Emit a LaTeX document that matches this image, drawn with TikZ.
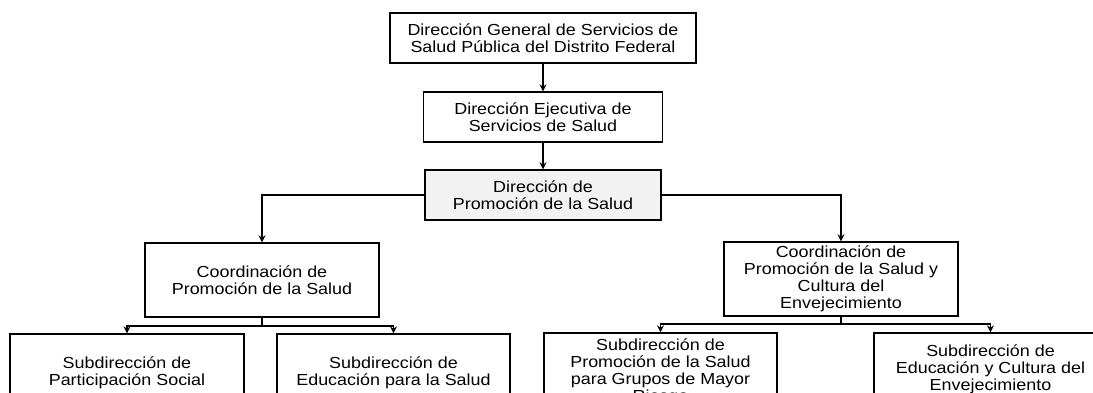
\documentclass[tikz,border=0pt]{standalone}
\usepackage{fontspec}
\setmainfont[FakeStretch=1.12]{Liberation Sans}
\usepackage{xcolor}
\usetikzlibrary{arrows.meta}
\definecolor{boxgray}{RGB}{242, 242, 242}

\begin{document}
\begin{tikzpicture}[x=1pt,y=1pt,yscale=-1,xscale=1,
  unit/.style={draw, line width=1.3pt, align=center, inner sep=2pt, font=\fontsize{16}{17}\selectfont},
  link/.style={line width=1.3pt, -{Stealth[length=7pt,width=7pt]}}]
%set diagram to 1093 x 392, the lowest boxes run off the bottom
\useasboundingbox (0,0) rectangle (1093,392);
\clip (0,0) rectangle (1093,392);

% Text Node
\node [unit, minimum width=306, minimum height=50] (dgs) at (543,38) {Dirección General de Servicios de\\Salud Pública del Distrito Federal};
% Text Node
\node [unit, minimum width=239, minimum height=50] (des) at (543,117) {Dirección Ejecutiva de\\Servicios de Salud};
% Text Node
\node [unit, fill=boxgray, minimum width=236, minimum height=50] (dps) at (543,195) {Dirección de\\Promoción de la Salud};
% Text Node
\node [unit, minimum width=234, minimum height=74] (cps) at (262,280) {Coordinación de\\Promoción de la Salud};
% Text Node
\node [unit, minimum width=234, minimum height=74] (cpsce) at (841,279) {Coordinación de\\Promoción de la Salud y\\Cultura del\\Envejecimiento};
% Text Node
\node [unit, minimum width=234, minimum height=78] (spsoc) at (127,373) {Subdirección de\\Participación Social};
% Text Node
\node [unit, minimum width=233, minimum height=78] (seps) at (393.5,373) {Subdirección de\\Educación para la Salud};
% Text Node
\node [unit, minimum width=233, minimum height=78] (spgmr) at (660.5,372) {Subdirección de\\Promoción de la Salud\\para Grupos de Mayor\\Riesgo};
% Text Node
\node [unit, minimum width=233, minimum height=72] (secde) at (990.5,369) {Subdirección de\\Educación y Cultura del\\Envejecimiento};

%Straight Lines
\draw [link] (dgs) -- (des);
\draw [link] (des) -- (dps);
\draw [link] (dps.west) -| (cps.north);
\draw [link] (dps.east) -| (cpsce.north);

%Forks
\coordinate (fork1) at (262,326);
\coordinate (fork2) at (841,324);
\draw [line width=1.3pt] (cps.south) -- (fork1);
\draw [link] (fork1) -| (spsoc.north);
\draw [link] (fork1) -| (seps.north);
\draw [line width=1.3pt] (cpsce.south) -- (fork2);
\draw [link] (fork2) -| (spgmr.north);
\draw [link] (fork2) -| (secde.north);

\end{tikzpicture}
\end{document}
